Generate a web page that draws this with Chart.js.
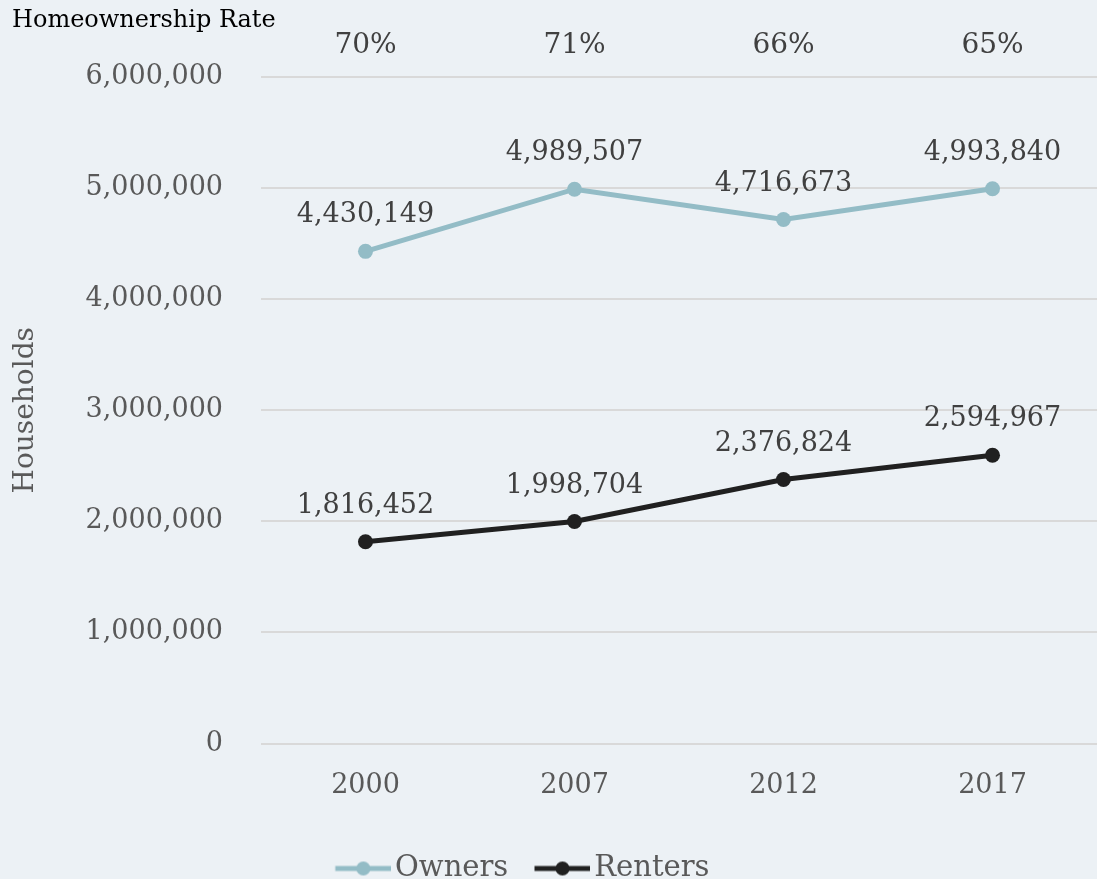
<!DOCTYPE html>
<html>
<head>
<meta charset="utf-8">
<script src="https://cdn.jsdelivr.net/npm/chart.js@4"></script>
<style>
    html, body { margin: 0; padding: 0; background: #ecf1f5; overflow: hidden; }
    #wrap { width: 1097px; height: 879px; position: relative; }
    canvas { display: block; }
</style>
</head>
<body>
<div id="wrap"><canvas id="grafica"></canvas></div>
<script>
const years = ['2000', '2007', '2012', '2017'];
const rates = ['70%', '71%', '66%', '65%'];
const owners = [4430149, 4989507, 4716673, 4993840];
const renters = [1816452, 1998704, 2376824, 2594967];

const FONT = "'DejaVu Serif', serif";
const OWNER_COLOR = '#93bcc6';
const RENTER_COLOR = '#202020';
const LEGEND_SIZE = 29;
const LEGEND_BOX = 45.5;

// icono de leyenda: linea con punto, llega casi hasta el texto
function legendIcon(color) {
    const k = 10.5;
    const c = document.createElement('canvas');
    c.width = LEGEND_BOX + 2 * k; c.height = 18;
    const g = c.getContext('2d');
    g.strokeStyle = color;
    g.lineWidth = 5;
    g.beginPath(); g.moveTo(k, 9); g.lineTo(k + 56, 9); g.stroke();
    g.fillStyle = color;
    g.beginPath(); g.arc(k + 28, 9, 7, 0, Math.PI * 2); g.fill();
    return c;
}

// etiquetas de valores encima de los puntos
const etiquetas = {
    id: 'etiquetas',
    afterDatasetsDraw(chart) {
        const ctx = chart.ctx;
        ctx.save();
        ctx.font = '27px ' + FONT;
        ctx.fillStyle = '#404040';
        ctx.textAlign = 'center';
        ctx.textBaseline = 'middle';
        chart.data.datasets.forEach((ds, i) => {
            chart.getDatasetMeta(i).data.forEach((pt, j) => {
                ctx.fillText(ds.data[j].toLocaleString('en-US'), pt.x, pt.y - 36);
            });
        });
        ctx.restore();
    }
};

const ctx = document.getElementById('grafica').getContext('2d');
new Chart(ctx, {
    type: 'line',
    data: {
        labels: years,
        datasets: [{
            label: 'Owners',
            data: owners,
            borderColor: OWNER_COLOR,
            backgroundColor: OWNER_COLOR,
            borderWidth: 5,
            pointRadius: 7.5,
            pointHoverRadius: 7.5,
            pointBorderWidth: 0
        }, {
            label: 'Renters',
            data: renters,
            borderColor: RENTER_COLOR,
            backgroundColor: RENTER_COLOR,
            borderWidth: 5,
            pointRadius: 7.5,
            pointHoverRadius: 7.5,
            pointBorderWidth: 0
        }]
    },
    options: {
        responsive: true,
        maintainAspectRatio: false,
        animation: false,
        layout: { autoPadding: false, padding: { left: 12, right: 0, top: 6, bottom: -14 } },
        plugins: {
            title: {
                display: true,
                text: 'Homeownership Rate',
                align: 'start',
                color: '#000000',
                font: { family: FONT, size: 24, weight: 'normal' },
                padding: { top: 0, bottom: -19.5 }
            },
            legend: {
                position: 'bottom',
                padding: { top: 0, bottom: 0 },
                labels: {
                    color: '#595959',
                    font: { family: FONT, size: LEGEND_SIZE },
                    usePointStyle: true,
                    pointStyleWidth: LEGEND_BOX,
                    padding: 26,
                    generateLabels(chart) {
                        return chart.data.datasets.map((ds, i) => ({
                            // espacios finales para correr la leyenda a la izquierda como en el original
                            text: i === chart.data.datasets.length - 1 ? ds.label + '       ' : ds.label,
                            pointStyle: legendIcon(ds.borderColor),
                            fillStyle: ds.borderColor,
                            strokeStyle: ds.borderColor,
                            lineWidth: 0,
                            fontColor: '#595959',
                            datasetIndex: i
                        }));
                    }
                }
            },
            tooltip: { enabled: false }
        },
        scales: {
            x: {
                offset: true,
                grid: { display: false, drawTicks: false },
                border: { display: false },
                ticks: { color: '#595959', font: { family: FONT, size: 27, lineHeight: 1.793 }, padding: 18 }
            },
            x2: {
                type: 'category',
                position: 'top',
                labels: rates,
                offset: true,
                grid: { display: false, drawTicks: false },
                border: { display: false },
                ticks: { color: '#404040', font: { family: FONT, size: 28 }, padding: 14 }
            },
            y: {
                min: 0,
                max: 6000000,
                afterFit(scale) { scale.width = 249; },
                grid: { color: '#d9d9d9', lineWidth: 2, drawTicks: false },
                border: { display: false },
                ticks: {
                    stepSize: 1000000,
                    color: '#595959',
                    font: { family: FONT, size: 27 },
                    padding: 38,
                    callback: v => v.toLocaleString('en-US')
                },
                title: {
                    display: true,
                    text: 'Households',
                    color: '#595959',
                    font: { family: FONT, size: 28 },
                    padding: { top: -3, bottom: 0 }
                }
            }
        }
    },
    plugins: [etiquetas]
});
</script>
</body>
</html>
